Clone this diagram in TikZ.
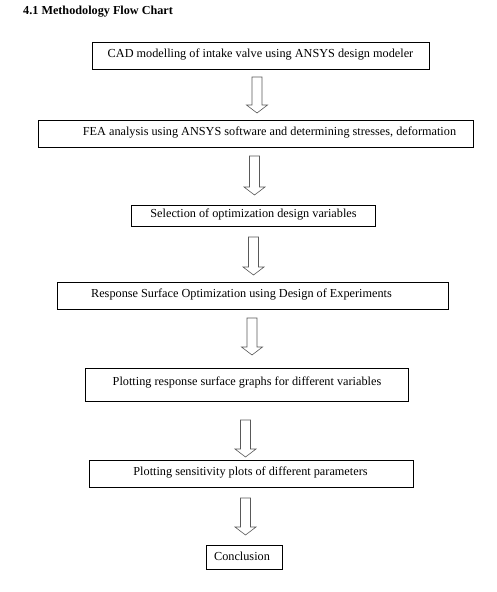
\documentclass[tikz,border=0pt]{standalone}
\usepackage{fontspec}
\setmainfont{Liberation Serif}
\tikzset{
  box/.style={draw=black, line width=0.8pt, inner sep=0pt, fill=white},
  txt/.style={inner sep=0pt, font=\fontsize{12.25}{14}\selectfont},
  arrowline/.style={draw=black!65, line width=0.6pt, fill=white, line join=miter},
  blockarr/.pic={
    \path[arrowline] (-5,0) -- (-5,#1-8) -- (-10.5,#1-8) -- (0,#1) -- (10.5,#1-8) -- (5,#1-8) -- (5,0) -- cycle;
  },
}
\begin{document}
\begin{tikzpicture}[x=1pt, y=-1pt]
\useasboundingbox (0,0) rectangle (497,592);
\fill[white] (0,0) rectangle (497,592);
\node[anchor=base west, inner sep=0pt, font=\fontsize{12.2}{14}\selectfont\bfseries] (title) at (23,14) {4.1 Methodology Flow Chart};

\node[box, minimum width=337pt, minimum height=27pt] (b1) at (260.5,55.5) {};
\node[txt] (t1) at (260.5,55) {CAD modelling of intake valve using ANSYS design modeler};

\node[box, minimum width=435pt, minimum height=27pt] (b2) at (255.5,133.5) {};
\node[txt] (t2) at (269.5,133) {FEA analysis using ANSYS software and determining stresses, deformation};

\node[box, minimum width=244pt, minimum height=21pt] (b3) at (253,215.5) {};
\node[txt] (t3) at (253.5,215) {Selection of optimization design variables};

\node[box, minimum width=391pt, minimum height=27pt] (b4) at (252.5,295.5) {};
\node[txt] (t4) at (241.5,295) {Response Surface Optimization using Design of Experiments};

\node[box, minimum width=323pt, minimum height=33pt] (b5) at (246.5,384.5) {};
\node[txt] (t5) at (247,383) {Plotting response surface graphs for different variables};

\node[box, minimum width=324pt, minimum height=27pt] (b6) at (251,473.5) {};
\node[txt] (t6) at (250.5,472.5) {Plotting sensitivity plots of different parameters};

\node[box, minimum width=76pt, minimum height=24pt] (b7) at (244,557) {};
\node[txt] (t7) at (242,556.5) {Conclusion};

\pic at (257,77) {blockarr=36};
\pic at (254.5,156) {blockarr=39};
\pic at (253.5,237) {blockarr=38};
\pic at (252,318) {blockarr=37};
\pic at (245.5,420) {blockarr=37};
\pic at (245.5,498) {blockarr=37};
\end{tikzpicture}
\end{document}
